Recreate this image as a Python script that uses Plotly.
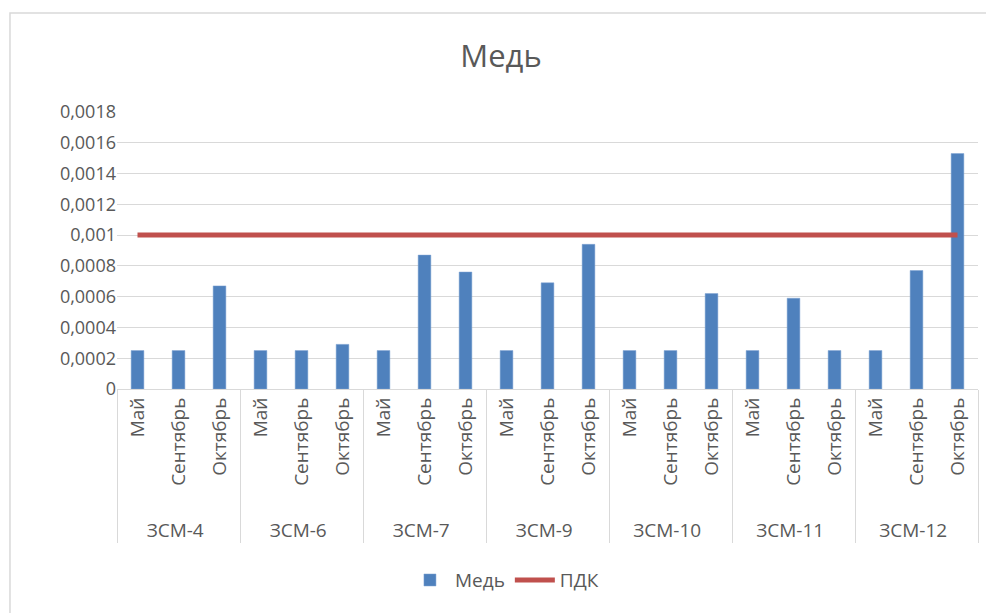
import plotly.graph_objects as go

# данные
stations = ['ЗСМ-4', 'ЗСМ-6', 'ЗСМ-7', 'ЗСМ-9', 'ЗСМ-10', 'ЗСМ-11', 'ЗСМ-12']
months = ['Май', 'Сентябрь', 'Октябрь']
copper = [
    0.00025, 0.00025, 0.00067,
    0.00025, 0.00025, 0.00029,
    0.00025, 0.00087, 0.00076,
    0.00025, 0.00069, 0.00094,
    0.00025, 0.00025, 0.00062,
    0.00025, 0.00059, 0.00025,
    0.00025, 0.00077, 0.00153,
]
pdk = [0.001] * 21
y_ticks = [0, 0.0002, 0.0004, 0.0006, 0.0008, 0.001, 0.0012, 0.0014, 0.0016, 0.0018]
y_tick_text = ['0', '0,0002', '0,0004', '0,0006', '0,0008', '0,001', '0,0012', '0,0014', '0,0016', '0,0018']

# неразрывные пробелы сдвигают подписи станций чуть ниже, как в Excel
pad = '\u00a0' * 3
x_outer = [s for s in stations for _ in months]
x_inner = [pad + m for _ in stations for m in months]

fig = go.Figure()
fig.add_trace(go.Bar(
    x=[x_outer, x_inner], y=copper, name='Медь',
    marker=dict(color='#4F81BD', line=dict(color='#7FA3D3', width=0.5)),
))
fig.add_trace(go.Scatter(
    x=[x_outer, x_inner], y=pdk, name='ПДК', mode='lines',
    line=dict(color='#C0504D', width=5),
))

# страница имеет отступ 8px, поэтому фигура чуть меньше окна
fig.update_layout(
    width=986, height=605,
    margin=dict(l=109, r=16, t=104, b=224, autoexpand=False),
    paper_bgcolor='white', plot_bgcolor='white',
    font=dict(family='Open Sans, Liberation Sans, sans-serif', color='#595959', size=18),
    title=dict(text='Медь', x=0.5, xanchor='center', y=0.921, yanchor='middle',
               font=dict(size=31, color='#595959')),
    bargap=0.69,
    showlegend=True,
    legend=dict(orientation='h', x=0.45, xanchor='center', y=-0.69, yanchor='middle',
                font=dict(size=19, color='#595959'), traceorder='normal', itemwidth=40),
    shapes=[dict(type='rect', xref='paper', yref='paper',
                 x0=-0.1243, x1=1.03, y0=-0.85, y1=1.357,
                 line=dict(color='#D9D9D9', width=1.5), fillcolor='rgba(0,0,0,0)', layer='below')],
)
fig.update_xaxes(
    type='multicategory', tickangle=-90, showline=True, linecolor='#D9D9D9',
    showgrid=False, showdividers=True, dividercolor='#D9D9D9', dividerwidth=1,
    ticks='', tickfont=dict(size=19, color='#595959'), automargin=False,
)
fig.update_yaxes(
    range=[0, 0.0018], tickvals=y_ticks, ticktext=y_tick_text,
    showgrid=True, gridcolor='#D9D9D9', gridwidth=1, zeroline=False,
    showline=False, ticks='', tickfont=dict(size=18, color='#595959'), automargin=False,
)

fig.write_html('out.html')
